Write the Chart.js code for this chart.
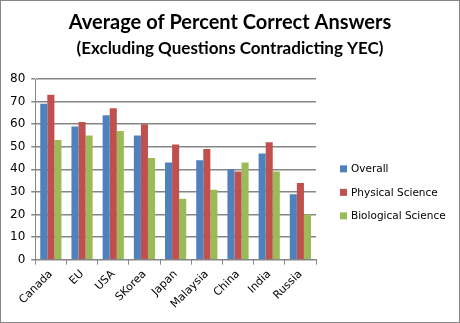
<!DOCTYPE html>
<html>
<head>
<meta charset="utf-8">
<script src="https://cdn.jsdelivr.net/npm/chart.js@4"></script>
<style>
    html, body { margin: 0; padding: 0; background: #fff; }
    #wrap { width: 460px; height: 323px; position: relative; }
</style>
</head>
<body>
<div id="wrap"><canvas id="chart"></canvas></div>
<script>
const countries = ['Canada', 'EU', 'USA', 'SKorea', 'Japan', 'Malaysia', 'China', 'India', 'Russia'];
const overall = [69, 59, 64, 55, 43, 44, 40, 47, 29];
const physical = [73, 61, 67, 60, 51, 49, 39, 52, 34];
const biological = [53, 55, 57, 45, 27, 31, 43, 39, 20];

const TITLE = 'Average of Percent Correct Answers';
const SUBTITLE = '(Excluding Questions Contradicting YEC)';
const GRID = '#868686';

// white background + thin frame around the whole picture
const frame = {
    id: 'frame',
    beforeDraw(chart) {
        const ctx = chart.ctx;
        ctx.save();
        ctx.fillStyle = '#fff';
        ctx.fillRect(0, 0, chart.width, chart.height);
        ctx.strokeStyle = GRID;
        ctx.lineWidth = 1;
        ctx.strokeRect(0.5, 0.5, chart.width - 1, chart.height - 1);
        ctx.restore();
    }
};

// titles centred on the whole picture, not on the plot
const headings = {
    id: 'headings',
    afterDraw(chart) {
        const ctx = chart.ctx;
        const cx = chart.width / 2;
        ctx.save();
        ctx.fillStyle = '#000';
        ctx.textAlign = 'center';
        ctx.textBaseline = 'middle';
        ctx.font = 'bold 20px Lato';
        ctx.fillText(TITLE, cx, 23);
        ctx.font = 'bold 17px Lato';
        ctx.fillText(SUBTITLE, cx, 49);
        ctx.restore();
    }
};

// legend to the right of the plot, like Excel's
const sideLegend = {
    id: 'sideLegend',
    afterDraw(chart) {
        const ctx = chart.ctx;
        const x = chart.chartArea.right + 24;
        const mid = (chart.chartArea.top + chart.chartArea.bottom) / 2 + 23;
        const gap = 23.5;
        const sets = chart.data.datasets;
        ctx.save();
        ctx.font = '10.5px "DejaVu Sans"';
        ctx.textBaseline = 'middle';
        sets.forEach((ds, i) => {
            const y = mid + (i - (sets.length - 1) / 2) * gap;
            ctx.fillStyle = ds.backgroundColor;
            ctx.fillRect(x, y - 3.5, 7, 7);
            ctx.fillStyle = '#000';
            ctx.fillText(ds.label, x + 11, y + 0.5);
        });
        ctx.restore();
    }
};

new Chart(document.getElementById('chart').getContext('2d'), {
    type: 'bar',
    data: {
        labels: countries,
        datasets: [
            { label: 'Overall', data: overall, backgroundColor: '#4F81BD' },
            { label: 'Physical Science', data: physical, backgroundColor: '#C0504D' },
            { label: 'Biological Science', data: biological, backgroundColor: '#9BBB59' }
        ]
    },
    options: {
        responsive: true,
        maintainAspectRatio: false,
        animation: false,
        categoryPercentage: 0.68,
        barPercentage: 1,
        layout: { padding: { left: 4, right: 144, top: 79, bottom: 9 } },
        plugins: {
            title: { display: false },
            legend: { display: false },
            tooltip: { enabled: false }
        },
        scales: {
            x: {
                grid: { display: true, drawOnChartArea: false, drawTicks: true, tickLength: 5, color: GRID },
                border: { color: GRID },
                ticks: {
                    color: '#000',
                    maxRotation: 45,
                    minRotation: 45,
                    font: { family: 'DejaVu Sans', size: 11 }
                }
            },
            y: {
                min: 0,
                max: 80,
                ticks: {
                    stepSize: 10,
                    color: '#000',
                    padding: 6,
                    font: { family: 'DejaVu Sans', size: 12 }
                },
                grid: { color: GRID, lineWidth: 1.5, drawTicks: true, tickLength: 4 },
                border: { color: GRID }
            }
        }
    },
    plugins: [frame, headings, sideLegend]
});
</script>
</body>
</html>
